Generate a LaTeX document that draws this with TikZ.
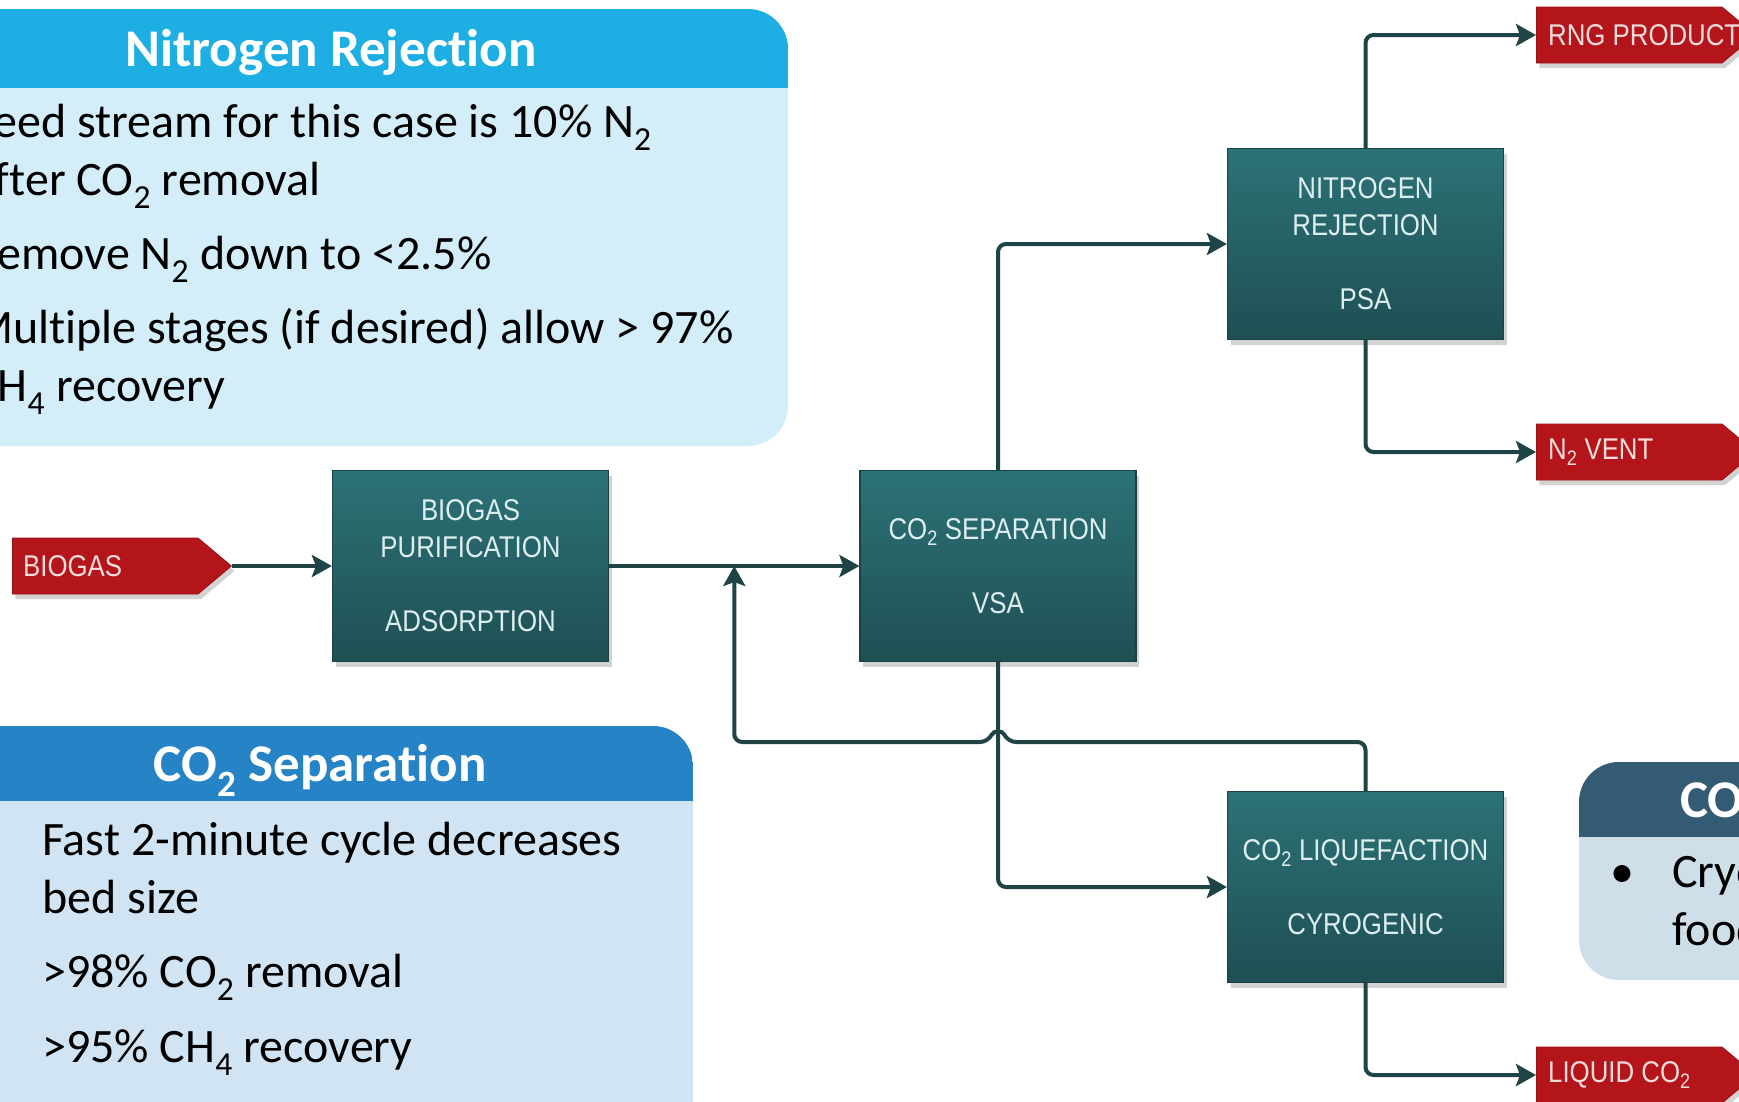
\documentclass[tikz,border=0pt]{standalone}
\usepackage{fontspec}
\setmainfont{Carlito}[Ligatures=NoCommon]
\newfontfamily\unitfont[FakeStretch=0.86]{Liberation Sans}
\usetikzlibrary{arrows.meta,positioning,calc,shapes.symbols,shadows}
\definecolor{nrHead}{HTML}{1DAEE3}
\definecolor{nrBody}{HTML}{D3EEF9}
\definecolor{csHead}{HTML}{2683C6}
\definecolor{csBody}{HTML}{D0E4F3}
\definecolor{clHead}{HTML}{335B73}
\definecolor{clBody}{HTML}{CFDFEA}
\definecolor{unitTop}{HTML}{2C7277}
\definecolor{unitBot}{HTML}{1E4F53}
\definecolor{unitEdge}{HTML}{1A4246}
\definecolor{unitTxt}{HTML}{DDEEEE}
\definecolor{tagC}{HTML}{B3151A}
\definecolor{tagEdge}{HTML}{9A1115}
\definecolor{tagTxt}{HTML}{F7DCDC}
\definecolor{flowC}{HTML}{1E4446}
\tikzset{>={Stealth[length=20pt,width=22pt,inset=4pt]},
  flow/.style={->,draw=flowC,line width=4pt,rounded corners=8pt},
  unit/.style={draw=unitEdge,line width=1.2pt,top color=unitTop,bottom color=unitBot,
    minimum width=276pt,minimum height=191pt,inner sep=0pt,align=center,text=unitTxt,
    font=\unitfont\fontsize{30}{37}\selectfont,
    drop shadow={shadow xshift=3pt,shadow yshift=-5pt,opacity=0.35}},
  tag/.style={shape=signal,signal to=east,signal pointer angle=80,anchor=west,
    minimum width=219pt,minimum height=56pt,inner sep=0pt,fill=tagC,draw=tagEdge,line width=0.8pt,
    drop shadow={shadow xshift=3pt,shadow yshift=-5pt,opacity=0.35}},
  tagtxt/.style={font=\unitfont\fontsize{30}{36}\selectfont,text=tagTxt,anchor=west,inner sep=0pt},
  hdrtxt/.style={font=\bfseries\fontsize{53}{63}\selectfont,text=white,inner sep=0pt},
  bodytxt/.style={font=\fontsize{48}{58}\selectfont,text=black,anchor=base west,inner sep=0pt}}

\begin{document}
\begin{tikzpicture}[x=1pt,y=-1pt]
\useasboundingbox (0,0) rectangle (1739,1101);
\fill[white] (0,0) rectangle (1739,1101);
\clip (0,0) rectangle (1739,1101);
% note panels
\fill[nrBody,rounded corners=40pt] (-80,9) rectangle (788,446);
\begin{scope}
\clip[rounded corners=40pt] (-80,9) rectangle (788,446);
\fill[nrHead] (-80,9) rectangle (788,88);
\end{scope}
\fill[csBody,rounded corners=40pt] (-80,726) rectangle (693,1160);
\begin{scope}
\clip[rounded corners=40pt] (-80,726) rectangle (693,1160);
\fill[csHead] (-80,726) rectangle (693,801);
\end{scope}
\fill[clBody,rounded corners=40pt] (1579,762) rectangle (2200,980);
\begin{scope}
\clip[rounded corners=40pt] (1579,762) rectangle (2200,980);
\fill[clHead] (1579,762) rectangle (2200,837);
\end{scope}
\node[hdrtxt,anchor=base] (nrtitle) at (331,66) {Nitrogen Rejection};
\node[bodytxt] (nr1) at (-28,137) {Feed stream for this case is 10\% N\textsubscript{2}};
\node[bodytxt] (nr2) at (-28,195) {after CO\textsubscript{2} removal};
\node[bodytxt] (nr3) at (-28,269) {Remove N\textsubscript{2} down to <2.5\%};
\node[bodytxt] (nr4) at (-28,343) {Multiple stages (if desired) allow > 97\%};
\node[bodytxt] (nr5) at (-28,401) {CH\textsubscript{4} recovery};
\node[hdrtxt,anchor=base] (cstitle) at (320,781) {CO\textsubscript{2} Separation};
\node[bodytxt] (cs1) at (42,855) {Fast 2-minute cycle decreases};
\node[bodytxt] (cs2) at (42,913) {bed size};
\node[bodytxt] (cs3) at (42,987) {>98\% CO\textsubscript{2} removal};
\node[bodytxt] (cs4) at (42,1062) {>95\% CH\textsubscript{4} recovery};
\node[hdrtxt,anchor=base west] (cltitle) at (1680,817) {CO\textsubscript{2} Liquefaction};
\node[bodytxt,anchor=base] (clbul) at (1622,887) {•};
\node[bodytxt] (cl1) at (1672,887) {Cryogenic};
\node[bodytxt] (cl2) at (1672,945) {food};
% process units
\node[unit] (bp) at (470.5,566) {BIOGAS\\PURIFICATION\\[37pt]ADSORPTION};
\node[unit] (cs) at (998,566) {CO\textsubscript{2} SEPARATION\\[37pt]VSA};
\node[unit] (nr) at (1365.5,244) {NITROGEN\\REJECTION\\[37pt]PSA};
\node[unit] (cl) at (1365.5,887) {CO\textsubscript{2} LIQUEFACTION\\[37pt]CYROGENIC};
% streams in and out
\node[tag] (biogas) at (12,566) {};
\node[tagtxt,right=11pt of biogas.west] (biogastxt) {BIOGAS};
\node[tag] (rng) at (1536,35) {};
\node[tagtxt,right=12pt of rng.west] (rngtxt) {RNG PRODUCT};
\node[tag] (vent) at (1536,452) {};
\node[tagtxt,right=12pt of vent.west] (venttxt) {N\textsubscript{2} VENT};
\node[tag] (liq) at (1536,1075) {};
\node[tagtxt,right=12pt of liq.west] (liqtxt) {LIQUID CO\textsubscript{2}};
% connectors
\coordinate (mix) at ($(bp.east)!0.5!(cs.west)$);
\coordinate (lowrow) at (0,742);
\coordinate (cross) at (cs.south |- lowrow);
\draw[flow] (biogas.east) -- (bp.west);
\draw[flow] (bp.east) -- (cs.west);
\draw[flow] (cs.north) |- (nr.west);
\draw[flow] (cs.south) |- (cl.west);
\draw[flow] (nr.north) |- (rng.west);
\draw[flow] (nr.south) |- (vent.west);
\draw[flow] (cl.south) |- (liq.west);
\draw[flow] (cl.north) |- ([xshift=10pt]cross)
  .. controls ([shift={(4,-12)}]cross) and ([shift={(-4,-12)}]cross) .. ([xshift=-10pt]cross)
  -| (mix);
\end{tikzpicture}
\end{document}
